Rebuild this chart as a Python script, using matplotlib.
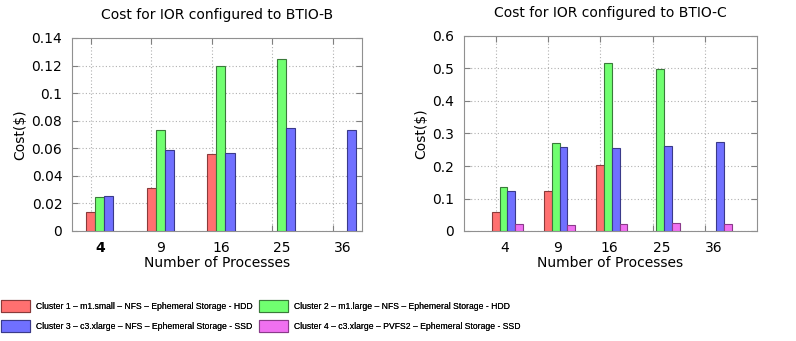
import numpy as np
import matplotlib.pyplot as plt
from matplotlib.patches import Patch

# process counts on the x axis
procs = ['4', '9', '16', '25', '36']

# cost ($) per cluster, BTIO-B (cluster 4 has no runs here)
cost_b_c1 = [0.014, 0.031, 0.0555, None, None]
cost_b_c2 = [0.0245, 0.073, 0.120, 0.125, None]
cost_b_c3 = [0.0255, 0.059, 0.0565, 0.0745, 0.0735]

# cost ($) per cluster, BTIO-C
cost_c_c1 = [0.060, 0.122, 0.202, None, None]
cost_c_c2 = [0.134, 0.270, 0.518, 0.499, None]
cost_c_c3 = [0.124, 0.258, 0.256, 0.262, 0.275]
cost_c_c4 = [0.022, 0.017, 0.021, 0.025, 0.021]

labels = [
    'Cluster 1 \u2013 m1.small \u2013 NFS \u2013 Ephemeral Storage - HDD',
    'Cluster 2 \u2013 m1.large \u2013 NFS \u2013 Ephemeral Storage - HDD',
    'Cluster 3 \u2013 c3.xlarge \u2013 NFS \u2013 Ephemeral Storage - SSD',
    'Cluster 4 \u2013 c3.xlarge \u2013 PVFS2 \u2013 Ephemeral Storage - SSD',
]
fills = ['#ff7070', '#70ff70', '#7070ff', '#f070f0']
edges = ['#8a3a3a', '#3a7a3a', '#3a3a8a', '#8a3a8a']

W, H = 796, 341
fig = plt.figure(figsize=(W / 100, H / 100), dpi=100)
plt.rcParams['font.family'] = 'DejaVu Sans'


def px_axes(x0, y0, x1, y1):
    return fig.add_axes([x0 / W, (H - y1) / H, (x1 - x0) / W, (y1 - y0) / H])


def draw_panel(ax, series, width, ylim, yticks, xlim, label_off, title):
    x = np.arange(len(procs))
    for i, vals in enumerate(series):
        pos = [x[j] + i * width for j, v in enumerate(vals) if v is not None]
        hts = [v for v in vals if v is not None]
        ax.bar(pos, hts, width=width, color=fills[i], edgecolor=edges[i],
               linewidth=0.8, zorder=3)
    ax.set_xlim(*xlim)
    ax.set_ylim(*ylim)
    # grid/tick marks sit on the first bar, labels sit nearer the cluster middle
    ax.set_xticks(x)
    ax.set_xticklabels([''] * len(x))
    ax.set_xticks(x + label_off, minor=True)
    ax.set_xticklabels(procs, minor=True)
    ax.set_yticks(yticks)
    ax.set_yticklabels([('%.2f' % t).rstrip('0').rstrip('.') for t in yticks])
    ax.grid(True, which='major', color='#b0b0b0', linestyle=(0, (1, 2)),
            linewidth=0.8, zorder=0)
    for s in ax.spines.values():
        s.set_color('#909090')
    ax.tick_params(which='major', direction='in', length=4, color='#808080',
                   labelsize=10, top=True, right=True, pad=7)
    ax.tick_params(which='minor', axis='x', length=0, labelsize=10, pad=7)
    ax.set_title(title, fontsize=10, pad=14)
    ax.set_xlabel('Number of Processes', fontsize=10, labelpad=1)
    ax.set_ylabel('Cost($)', fontsize=10, labelpad=3)


ax1 = px_axes(72, 38, 362, 231)
draw_panel(ax1, [cost_b_c1, cost_b_c2, cost_b_c3], 0.15, (0, 0.14),
           np.arange(0, 0.141, 0.02), (-0.31, 4.48), 0.158,
           'Cost for IOR configured to BTIO-B')
ax1.get_xticklabels(minor=True)[0].set_fontweight('bold')

ax2 = px_axes(464, 36, 757, 231)
draw_panel(ax2, [cost_c_c1, cost_c_c2, cost_c_c3, cost_c_c4], 0.148, (0, 0.6),
           np.arange(0, 0.61, 0.1), (-0.61, 5.0), 0.172,
           'Cost for IOR configured to BTIO-C')

handles = [Patch(facecolor=fills[i], edgecolor=edges[i], linewidth=0.8)
           for i in range(4)]
fs = 6.25
fs_px = fs * 100 / 72
leg_kw = dict(loc='upper left', frameon=False, handlelength=29 / fs_px,
              handleheight=15 / fs_px, handletextpad=6 / fs_px,
              labelspacing=8 / fs_px, borderaxespad=0, borderpad=0,
              prop={'family': 'Liberation Sans', 'size': fs})
for col, x0 in ((0, 1), (1, 259)):
    lg = fig.legend([handles[col], handles[col + 2]], [labels[col], labels[col + 2]],
                    bbox_to_anchor=(x0 / W, (H - 300) / H), **leg_kw)
    fig.add_artist(lg)

fig.savefig('out.png', dpi=100)
